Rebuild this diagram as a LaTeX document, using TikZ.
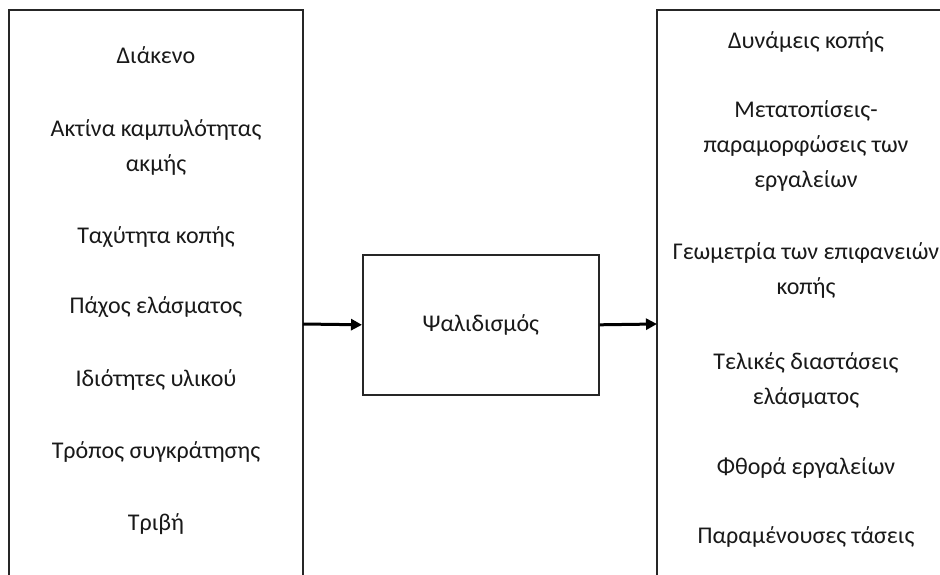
\documentclass[tikz,border=0pt]{standalone}
\usepackage{fontspec}
\setmainfont{Carlito}
\usetikzlibrary{arrows.meta}
\begin{document}
\begin{tikzpicture}[x=1pt,y=-1pt,
  frame/.style={draw=black!85,line width=1.6pt},
  lbl/.style={align=center,inner sep=0pt,font=\fontsize{24}{35}\selectfont,text=black!90},
  conn/.style={line width=3pt,-{Triangle[length=11pt,width=11pt]}}]
\useasboundingbox (0,0) rectangle (940,574);
\clip (0,0) rectangle (940,574);
\fill[white] (0,0) rectangle (940,574);
% boxes
\draw[frame] (9,600) -- (9,10) -- (303,10) -- (303,600);
\draw[frame] (657,600) -- (657,10) -- (1000,10);
\node[frame,minimum width=236pt,minimum height=140pt,inner sep=0pt,anchor=north west] (mid) at (362,254) {};
\node[lbl] (m) at (mid.center) {Ψαλιδισμός};
\coordinate (lin) at (303,324);
\coordinate (rin) at (657,324);
% left texts
\node[lbl] (l1) at (156,55) {Διάκενο};
\node[lbl] (l2) at (156,147) {Ακτίνα καμπυλότητας\\ακμής};
\node[lbl] (l3) at (156,237) {Ταχύτητα κοπής};
\node[lbl] (l4) at (156,307) {Πάχος ελάσματος};
\node[lbl] (l5) at (156,380) {Ιδιότητες υλικού};
\node[lbl] (l6) at (156,452) {Τρόπος συγκράτησης};
\node[lbl] (l7) at (156,524) {Τριβή};
% right texts
\node[lbl] (r1) at (806,42) {Δυνάμεις κοπής};
\node[lbl] (r2) at (806,146) {Μετατοπίσεις-\\παραμορφώσεις των\\εργαλείων};
\node[lbl] (r3) at (806,270) {Γεωμετρία των επιφανειών\\κοπής};
\node[lbl] (r4) at (806,380) {Τελικές διαστάσεις\\ελάσματος};
\node[lbl] (r5) at (806,468) {Φθορά εργαλείων};
\node[lbl] (r6) at (806,537) {Παραμένουσες τάσεις};
% connectors
\draw[conn] (lin) -- (mid.west);
\draw[conn] (mid.east) -- (rin);
\end{tikzpicture}
\end{document}
